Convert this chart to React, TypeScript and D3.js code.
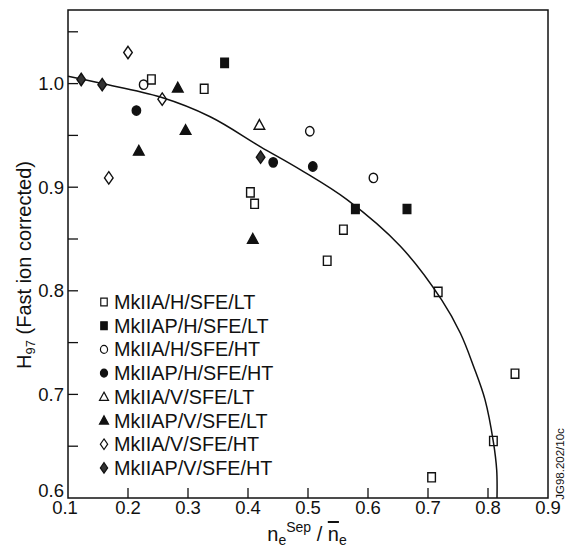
import React from "react";
import * as d3 from "d3";

// series: [ne_sep/ne_bar, H97]
const mk2aHLT = [
  [0.239, 1.004], [0.327, 0.995], [0.404, 0.895], [0.411, 0.884], [0.559, 0.859],
  [0.532, 0.829], [0.717, 0.799], [0.845, 0.72], [0.809, 0.655], [0.706, 0.62],
];
const mk2apHLT = [[0.361, 1.02], [0.579, 0.879], [0.665, 0.879]];
const mk2aHHT = [[0.226, 0.999], [0.503, 0.954], [0.609, 0.909]];
const mk2apHHT = [[0.214, 0.974], [0.442, 0.924], [0.508, 0.92]];
const mk2aVLT = [[0.419, 0.96]];
const mk2apVLT = [[0.283, 0.996], [0.296, 0.955], [0.218, 0.935], [0.408, 0.85]];
const mk2aVHT = [[0.2, 1.03], [0.257, 0.985], [0.168, 0.909]];
const mk2apVHT = [[0.122, 1.004], [0.157, 0.999], [0.421, 0.929]];

// fitted curve, traced
const fitCurve = [
  [0.1, 1.007], [0.157, 1.0], [0.254, 0.987], [0.337, 0.968], [0.421, 0.939],
  [0.487, 0.917], [0.565, 0.888], [0.654, 0.843], [0.723, 0.791], [0.754, 0.759],
  [0.776, 0.727], [0.795, 0.695], [0.809, 0.654], [0.8145, 0.627], [0.815, 0.6],
];

const xTickValues = [0.1, 0.2, 0.3, 0.4, 0.5, 0.6, 0.7, 0.8, 0.9];
const yTickLabels = [0.6, 0.7, 0.8, 0.9, 1.0];
const yMinorTicks = [0.65, 0.75, 0.85, 0.95, 1.05];

const legendNames = [
  "MkIIA/H/SFE/LT",
  "MkIIAP/H/SFE/LT",
  "MkIIA/H/SFE/HT",
  "MkIIAP/H/SFE/HT",
  "MkIIA/V/SFE/LT",
  "MkIIAP/V/SFE/LT",
  "MkIIA/V/SFE/HT",
  "MkIIAP/V/SFE/HT",
];

const FONT = "'Liberation Sans', Arial, Helvetica, sans-serif";
const INK = "#111";

type Kind = "square" | "circle" | "triangle" | "diamond";
const series: { data: number[][]; kind: Kind; filled: boolean }[] = [
  { data: mk2aHLT, kind: "square", filled: false },
  { data: mk2apHLT, kind: "square", filled: true },
  { data: mk2aHHT, kind: "circle", filled: false },
  { data: mk2apHHT, kind: "circle", filled: true },
  { data: mk2aVLT, kind: "triangle", filled: false },
  { data: mk2apVLT, kind: "triangle", filled: true },
  { data: mk2aVHT, kind: "diamond", filled: false },
  { data: mk2apVHT, kind: "diamond", filled: true },
];

function Marker({ kind, filled, x, y, s = 1 }: { kind: Kind; filled: boolean; x: number; y: number; s?: number }) {
  const fill = filled ? (kind === "diamond" ? "#333" : INK) : "none";
  const common = { fill, stroke: INK, strokeWidth: 1.4 };
  const t = `translate(${x},${y}) scale(${s})`;
  if (kind === "circle") return <ellipse transform={t} rx={4.2} ry={4.7} {...common} />;
  let d = "";
  if (kind === "square") d = "M-3.8,-4.6H3.8V4.6H-3.8Z";
  if (kind === "triangle") d = "M0,-5.5L5.3,4.2L-5.3,4.2Z";
  if (kind === "diamond") d = "M0,-6.2L4.3,0L0,6.2L-4.3,0Z";
  return <path transform={t} d={d} {...common} />;
}

export default function App() {
  const width = 568;
  const height = 550;
  const left = 68, right = 548, top = 10, bottom = 498;

  const x = d3.scaleLinear().domain([0.1, 0.9]).range([left, right]);
  const y = d3.scaleLinear().domain([0.6, 0.6 + (bottom - top) / 1036]).range([bottom, top]);

  const line = d3
    .line<number[]>()
    .x((d) => x(d[0]))
    .y((d) => y(d[1]))
    .curve(d3.curveCatmullRom.alpha(0.5));

  const fmt = d3.format(".1f");

  return (
    <svg width={width} height={height} style={{ position: "absolute", left: 0, top: 0, background: "#fff" }}
      fontFamily={FONT}>
      {/* frame */}
      <rect x={left} y={top} width={right - left} height={bottom - top} fill="none" stroke={INK} strokeWidth={1.5} />

      {/* x ticks */}
      {xTickValues.map((v) => (
        <g key={"x" + v}>
          {v > 0.1 && v < 0.9 && (
            <line x1={x(v)} x2={x(v)} y1={bottom} y2={bottom - 10} stroke={INK} strokeWidth={1.3} />
          )}
          <text x={x(v) - (v === 0.1 ? 3 : 0)} y={bottom + 16} textAnchor="middle" fontSize={18.5} fill={INK}>
            {fmt(v)}
          </text>
        </g>
      ))}

      {/* y ticks */}
      {yTickLabels.map((v) => (
        <g key={"y" + v}>
          {v > 0.6 && <line x1={left} x2={left + 10} y1={y(v)} y2={y(v)} stroke={INK} strokeWidth={1.3} />}
          <text x={left - 4} y={y(v) + (v === 0.6 ? -1 : 6.5)} textAnchor="end" fontSize={18.5} fill={INK}>
            {fmt(v)}
          </text>
        </g>
      ))}
      {yMinorTicks.map((v) => (
        <line key={"ym" + v} x1={left} x2={left + 10} y1={y(v)} y2={y(v)} stroke={INK} strokeWidth={1.3} />
      ))}

      {/* fitted curve */}
      <path d={line(fitCurve) || ""} fill="none" stroke={INK} strokeWidth={1.5} />

      {/* data */}
      {series.map((s, i) =>
        s.data.map((d, j) => (
          <Marker key={i + "-" + j} kind={s.kind} filled={s.filled} x={x(d[0])} y={y(d[1])} />
        ))
      )}

      {/* legend */}
      {legendNames.map((name, i) => {
        const ly = 302 + i * 23.7;
        return (
          <g key={name}>
            <Marker kind={series[i].kind} filled={series[i].filled} x={104} y={ly} s={0.85} />
            <text x={114} y={ly + 7} fontSize={19.8} fill={INK}>
              {name}
            </text>
          </g>
        );
      })}

      {/* y label */}
      <text transform="translate(31,265) rotate(-90)" textAnchor="middle" fontSize={20} fill={INK}>
        <tspan>H</tspan>
        <tspan fontSize={13} dy={4}>97</tspan>
        <tspan dy={-4}> (Fast ion corrected)</tspan>
      </text>

      {/* x label */}
      <text x={307} y={541} textAnchor="middle" fontSize={20} fill={INK}>
        <tspan>n</tspan>
        <tspan fontSize={14} dy={4}>e</tspan>
        <tspan fontSize={14} dy={-13}>Sep</tspan>
        <tspan dy={9}> / </tspan>
        <tspan style={{ textDecoration: "overline" }}>n</tspan>
        <tspan fontSize={14} dy={4}>e</tspan>
      </text>

      {/* figure id */}
      <text transform="translate(564,464) rotate(-90)" textAnchor="middle" fontSize={11.5} fill={INK}>
        JG98.202/10c
      </text>
    </svg>
  );
}
